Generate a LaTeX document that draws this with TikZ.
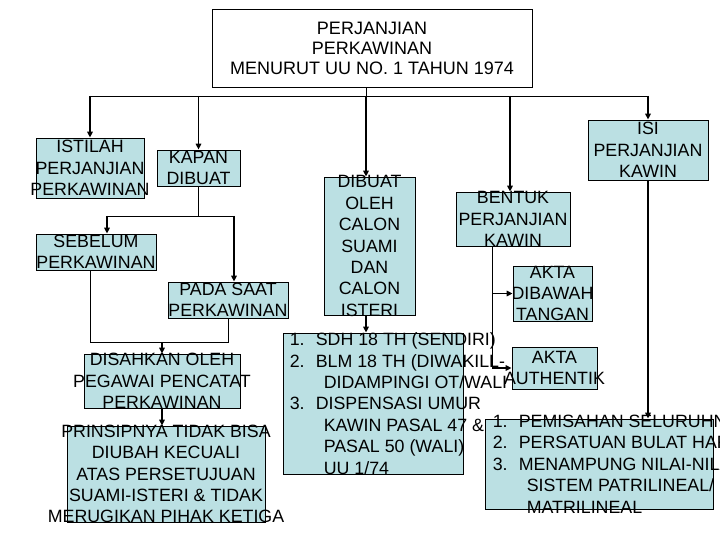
\documentclass[tikz,border=0pt]{standalone}
\usepackage{fontspec}
\setmainfont{Liberation Sans}
\usetikzlibrary{arrows.meta,positioning}
\definecolor{kotakbiru}{RGB}{187,224,227}
\tikzset{
    % Box styles
    judul box/.style={
        draw,
        fill=white,
        line width=0.8pt,
        inner sep=0pt
    },
    isi box/.style={
        draw,
        fill=kotakbiru,
        line width=0.8pt,
        inner sep=0pt
    },
    % Text styles
    teks/.style={
        align=center,
        inner sep=0pt,
        font=\fontsize{17.8}{21.4}\selectfont
    },
    daftar/.style={
        align=left,
        anchor=west,
        inner sep=0pt,
        font=\fontsize{17.8}{21.4}\selectfont
    },
    % Arrow styles
    garis/.style={
        line width=0.9pt
    },
    panah/.style={
        -{Triangle[length=6pt,width=5.5pt]},
        line width=1.8pt
    }
}
\newcommand{\butir}[2]{\makebox[26pt][l]{#1}#2}
\newcommand{\lanjut}{\hspace*{34pt}}

\begin{document}
\begin{tikzpicture}[x=1pt, y=-1pt]
        \useasboundingbox[fill=white] (0,0) rectangle (720,540);

        % Title
        \node[judul box, minimum width=320pt, minimum height=78pt] (judul) at (372,48) {};
        \node[teks, font=\fontsize{18}{20}\selectfont] (judul-t) at (judul) {PERJANJIAN\\PERKAWINAN\\MENURUT UU NO. 1 TAHUN 1974};

        % Left branch
        \node[isi box, minimum width=108pt, minimum height=60pt] (istilah) at (90,168) {};
        \node[teks] (istilah-t) at (istilah) {ISTILAH\\PERJANJIAN\\PERKAWINAN};
        \node[isi box, minimum width=83pt, minimum height=36pt] (kapan) at (198.5,168) {};
        \node[teks] (kapan-t) at (kapan) {KAPAN\\DIBUAT};
        \node[isi box, minimum width=120pt, minimum height=36pt] (sebelum) at (96,252) {};
        \node[teks] (sebelum-t) at (sebelum) {SEBELUM\\PERKAWINAN};
        \node[isi box, minimum width=120pt, minimum height=36pt] (padasaat) at (228,300) {};
        \node[teks] (padasaat-t) at (padasaat) {PADA SAAT\\PERKAWINAN};
        \node[isi box, minimum width=156pt, minimum height=54pt] (disahkan) at (162,381) {};
        \node[teks] (disahkan-t) at (disahkan) {DISAHKAN OLEH\\PEGAWAI PENCATAT\\PERKAWINAN};
        \node[isi box, minimum width=198pt, minimum height=96pt] (prinsip) at (166,474) {};
        \node[teks] (prinsip-t) at (prinsip) {PRINSIPNYA TIDAK BISA\\DIUBAH KECUALI\\ATAS PERSETUJUAN\\SUAMI-ISTERI \& TIDAK\\MERUGIKAN PIHAK KETIGA};

        % Middle branch
        \node[isi box, minimum width=91pt, minimum height=138pt] (dibuat) at (369.5,246) {};
        \node[teks] (dibuat-t) at (dibuat) {DIBUAT\\OLEH\\CALON\\SUAMI\\DAN\\CALON\\ISTERI};
        \node[isi box, minimum width=180pt, minimum height=141pt] (daftarkiri) at (373,403.5) {};
        \node[daftar] (daftarkiri-t) at ([xshift=7pt]daftarkiri.west) {%
            \butir{1.}{SDH 18 TH (SENDIRI)}\\
            \butir{2.}{BLM 18 TH (DIWAKILL-}\\
            \lanjut DIDAMPINGI OT/WALI\\
            \butir{3.}{DISPENSASI UMUR}\\
            \lanjut KAWIN PASAL 47 \&\\
            \lanjut PASAL 50 (WALI)\\
            \lanjut UU 1/74};

        % Right branch
        \node[isi box, minimum width=114pt, minimum height=54pt] (bentuk) at (513,219) {};
        \node[teks] (bentuk-t) at (bentuk) {BENTUK\\PERJANJIAN\\KAWIN};
        \node[isi box, minimum width=79pt, minimum height=55pt] (aktabawah) at (552.5,293.5) {};
        \node[teks] (aktabawah-t) at (aktabawah) {AKTA\\DIBAWAH\\TANGAN};
        \node[isi box, minimum width=85pt, minimum height=42pt] (aktaauth) at (554.5,368) {};
        \node[teks] (aktaauth-t) at (aktaauth) {AKTA\\AUTHENTIK};
        \node[isi box, minimum width=120pt, minimum height=60pt] (isi) at (648,150) {};
        \node[teks] (isi-t) at (isi) {ISI\\PERJANJIAN\\KAWIN};
        \node[isi box, minimum width=228pt, minimum height=90pt] (daftarkanan) at (599,464) {};
        \node[daftar] (daftarkanan-t) at ([xshift=8pt]daftarkanan.west) {%
            \butir{1.}{PEMISAHAN SELURUHNYA}\\
            \butir{2.}{PERSATUAN BULAT HARTA}\\
            \butir{3.}{MENAMPUNG NILAI-NILAI}\\
            \lanjut SISTEM PATRILINEAL/\\
            \lanjut MATRILINEAL};

        % Junction points
        \coordinate (bus) at (366,96);
        \coordinate (cabang) at (198.5,216);
        \coordinate (ksebelum) at ([xshift=11pt]sebelum.north);
        \coordinate (kpadasaat) at ([xshift=6pt]padasaat.north);
        \coordinate (bsebelum) at ([xshift=-6pt]sebelum.south);
        \coordinate (bawah) at (162,342);
        \coordinate (kdibuat) at ([xshift=-3.5pt]dibuat.north);
        \coordinate (bdibuat) at ([xshift=-3.5pt]dibuat.south);
        \coordinate (kbentuk) at ([xshift=-3pt]bentuk.north);
        \coordinate (bbentuk) at ([xshift=-21pt]bentuk.south);

        % Top bus
        \draw[garis] (bus |- judul.south) -- (bus);
        \draw[garis] (istilah.north |- bus) -- (isi.north |- bus);
        \draw[panah] (istilah.north |- bus) -- (istilah.north);
        \draw[panah] (kapan.north |- bus) -- (kapan.north);
        \draw[panah] (bus) -- (kdibuat);
        \draw[panah] (kbentuk |- bus) -- (kbentuk);
        \draw[panah] (isi.north |- bus) -- (isi.north);

        % Kapan dibuat
        \draw[garis] (kapan.south) -- (cabang);
        \draw[garis] (ksebelum |- cabang) -- (kpadasaat |- cabang);
        \draw[panah] (ksebelum |- cabang) -- (ksebelum);
        \draw[panah] (kpadasaat |- cabang) -- (kpadasaat);
        \draw[garis] (bsebelum) -- (bsebelum |- bawah) -- (padasaat.south |- bawah) -- (padasaat.south);
        \draw[panah] (bawah) -- (disahkan.north);
        \draw[panah] (disahkan.south) -- (disahkan.south |- prinsip.north);

        % Dibuat oleh
        \draw[panah] (bdibuat) -- (bdibuat |- daftarkiri.north);

        % Bentuk
        \draw[garis] (bbentuk) -- (bbentuk |- aktaauth.west);
        \draw[panah] (bbentuk |- aktabawah.west) -- (aktabawah.west);
        \draw[panah] (bbentuk |- aktaauth.west) -- (aktaauth.west);

        % Isi
        \draw[panah] (isi.south) -- (isi.south |- daftarkanan.north);
    \end{tikzpicture}
\end{document}
